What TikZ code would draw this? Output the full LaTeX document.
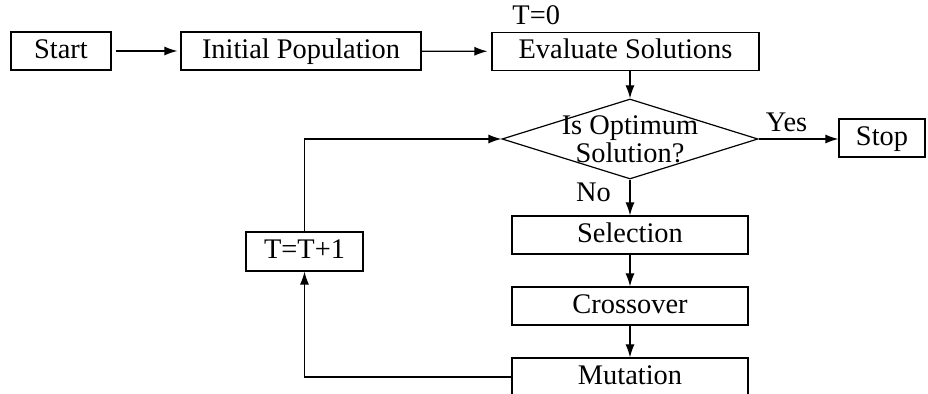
\documentclass[tikz,border=0pt]{standalone}
\usepackage{fontspec}
\setmainfont{Liberation Serif}
\usetikzlibrary{shapes.geometric,positioning,arrows.meta}
\tikzset{
    flow-box/.style = {draw, line width=0.6pt, rectangle, inner sep=0pt, minimum height=19pt, text height=9.5pt, text depth=2pt},
    flow-decision/.style = {draw, line width=0.6pt, diamond, aspect=3.2, inner sep=-5pt, minimum width=128pt, minimum height=40pt, align=center},
    flow-arrow/.style = {-{Latex[length=6.5pt, width=4.5pt]}, line width=0.6pt},
    flow-text/.style = {font=\fontsize{14.2}{14}\selectfont},
}

\begin{document}
\begin{tikzpicture}[x=0.5pt, y=-0.5pt, every node/.style={flow-text}]
\useasboundingbox (0,0) rectangle (928,394);
\node [flow-box, minimum width=50pt] (start) at (61,51) {Start};
\node [flow-box, minimum width=120pt] (init) at (301,51) {Initial Population};
\node [flow-box, minimum width=133.5pt] (eval) at (625.5,51.5) {Evaluate Solutions};
\node [above right=0pt and 7pt] (tzero) at (eval.north west) {T=0};
\node [flow-decision] (test) at (630,139) {Is Optimum\\Solution?};
\node [flow-box, minimum width=43pt] (stop) at (882,138) {Stop};
\node [flow-box, minimum width=118pt] (selection) at (630,235) {Selection};
\node [flow-box, minimum width=118pt] (crossover) at (630,306) {Crossover};
\node [flow-box, minimum width=118pt] (mutation) at (630,377) {Mutation};
\node [flow-box, minimum width=58.5pt, minimum height=19.5pt] (incr) at (304.5,251.5) {T=T+1};

\draw [flow-arrow, shorten <=2pt, shorten >=1.5pt] (start) -- (init);
\draw [flow-arrow, shorten >=2pt] (init) -- (eval);
\draw [flow-arrow] (eval.south -| test.north) -- (test.north);
\draw [flow-arrow] (test.east) -- node[pos=0.35, above] (yes) {Yes} (stop.west |- test.east);
\draw [flow-arrow] (test.south) -- node[pos=0.35, left=6pt] (no) {No} (selection.north);
\draw [flow-arrow] (selection) -- (crossover);
\draw [flow-arrow] (crossover) -- (mutation);
\draw [flow-arrow] (mutation.west) -| (incr.south);
\draw [flow-arrow] (incr.north) |- (test.west);
\end{tikzpicture}
\end{document}
